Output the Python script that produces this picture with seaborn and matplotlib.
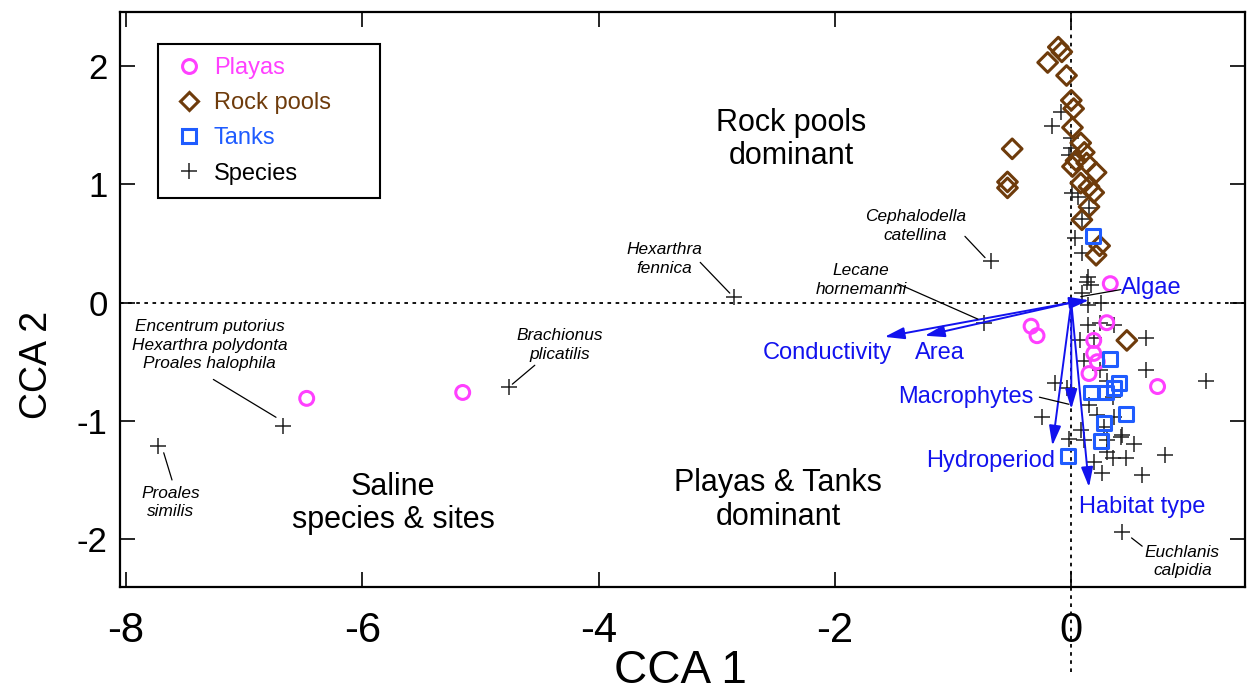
import matplotlib
matplotlib.use("Agg")
import matplotlib.pyplot as plt
from matplotlib.lines import Line2D
import numpy as np
import pandas as pd
import seaborn as sns

# ---- site scores (CCA 1, CCA 2) ----
playas_x = [-6.47, -5.15, -0.34, -0.29, 0.33, 0.30, 0.19, 0.19, 0.22, 0.15, 0.73]
playas_y = [-0.81, -0.76, -0.20, -0.28, 0.16, -0.17, -0.32, -0.43, -0.50, -0.60, -0.71]

rock_x = [-0.11, -0.08, -0.20, -0.04, 0.00, 0.02, 0.01, -0.50, 0.08, 0.11, 0.04, 0.13,
          0.21, 0.08, 0.15, 0.19, 0.15, 0.09, 0.24, 0.21, -0.54, -0.54, 0.47, 0.01]
rock_y = [2.16, 2.12, 2.03, 1.92, 1.71, 1.64, 1.48, 1.30, 1.35, 1.27, 1.20, 1.18,
          1.10, 1.01, 0.98, 0.93, 0.81, 0.70, 0.48, 0.40, 1.02, 0.97, -0.32, 1.15]

tanks_x = [0.18, 0.33, 0.40, 0.17, 0.29, 0.36, 0.46, 0.28, 0.25, -0.03]
tanks_y = [0.56, -0.48, -0.68, -0.76, -0.76, -0.72, -0.94, -1.02, -1.17, -1.30]

# ---- species scores ----
species_x = [-7.73, -6.67, -4.76, -2.85, -0.74, -0.68, 0.43,
             -0.09, -0.16, 0.00, 0.00, -0.02, 0.01, 0.06, 0.15, 0.09, 0.03, 0.09,
             0.14, 0.13, 0.17, 0.09, 0.25, 0.14, 0.14, 0.24, 0.36, 0.07, 0.19, 0.63,
             0.11, 0.24, 0.63, 1.14, -0.14, -0.04, 0.30, 0.15, 0.35, -0.25, 0.22,
             0.36, 0.08, 0.28, 0.43, -0.02, 0.11, 0.30, 0.42, 0.53, 0.30, 0.35,
             0.19, 0.46, 0.79, 0.26, 0.60]
species_y = [-1.21, -1.04, -0.71, 0.05, -0.17, 0.35, -1.94,
             1.61, 1.49, 1.39, 1.31, 1.25, 0.93, 0.89, 0.80, 0.71, 0.55, 0.42,
             0.22, 0.17, 0.15, 0.08, 0.00, -0.02, -0.19, -0.17, -0.19, -0.32, -0.30, -0.30,
             -0.49, -0.57, -0.57, -0.66, -0.68, -0.72, -0.66, -0.87, -0.80, -0.97, -0.95,
             -0.97, -1.08, -1.05, -1.12, -1.15, -1.16, -1.16, -1.14, -1.20, -1.26, -1.31,
             -1.35, -1.31, -1.29, -1.44, -1.46]

# ---- environmental vectors ----
env_names = ["Algae", "Conductivity", "Area", "Macrophytes", "Hydroperiod", "Habitat type"]
env_x = [0.15, -1.58, -1.24, 0.00, -0.16, 0.15]
env_y = [0.02, -0.29, -0.28, -0.90, -1.21, -1.56]

# ---- species names ----
species_names = ["Proales\nsimilis",
                 "Encentrum putorius\nHexarthra polydonta\nProales halophila",
                 "Brachionus\nplicatilis",
                 "Hexarthra\nfennica",
                 "Lecane\nhornemanni",
                 "Cephalodella\ncatellina",
                 "Euchlanis\ncalpidia"]

legend_labels = ["Playas", "Rock pools", "Tanks", "Species"]

PLAYA = "#ff40ff"
ROCK = "#6e3b0b"
TANK = "#1f5cff"
SPEC = "#222222"
VEC = "#1212ee"

sns.set_style("ticks")
plt.rcParams["font.family"] = ["Liberation Sans", "DejaVu Sans"]
plt.rcParams["axes.unicode_minus"] = False
plt.rcParams["xtick.color"] = "k"
plt.rcParams["ytick.color"] = "k"
plt.rcParams["axes.labelcolor"] = "k"

sites = pd.concat([
    pd.DataFrame({"CCA1": playas_x, "CCA2": playas_y, "type": "Playas"}),
    pd.DataFrame({"CCA1": rock_x, "CCA2": rock_y, "type": "Rock pools"}),
    pd.DataFrame({"CCA1": tanks_x, "CCA2": tanks_y, "type": "Tanks"}),
], ignore_index=True)
species = pd.DataFrame({"CCA1": species_x, "CCA2": species_y})

fig = plt.figure(figsize=(12.47, 6.92), dpi=100)
ax = fig.add_axes([120 / 1247, 1 - 587 / 692, 1125 / 1247, 575 / 692])

x_lo, x_hi = -8.05, 1.47
y_lo, y_hi = -2.405, 2.457

# dotted reference axes through the origin
ax.axhline(0, color="k", lw=1.3, ls=(0, (2, 2.5)), zorder=1)
ax.plot([0, 0], [-3.12, y_hi], color="k", lw=1.3, ls=(0, (2, 2.5)),
        clip_on=False, zorder=1)

# species
sns.scatterplot(data=species, x="CCA1", y="CCA2", marker="+", s=140,
                color=SPEC, linewidth=1.1, ax=ax, zorder=3, legend=False)

# sites
marker_map = {"Playas": "o", "Rock pools": "D", "Tanks": "s"}
color_map = {"Playas": PLAYA, "Rock pools": ROCK, "Tanks": TANK}
for name, grp in sites.groupby("type", sort=False):
    sns.scatterplot(data=grp, x="CCA1", y="CCA2", marker=marker_map[name],
                    s=100, facecolors="none",
                    edgecolor=color_map[name], linewidth=2.2, ax=ax,
                    zorder=4, legend=False)

# environmental arrows
for ex, ey in zip(env_x, env_y):
    ax.annotate("", xy=(ex, ey), xytext=(0, 0),
                arrowprops=dict(arrowstyle="-|>,head_length=0.6,head_width=0.18",
                                color=VEC, lw=1.4, shrinkA=0, shrinkB=0,
                                mutation_scale=20),
                zorder=5)

env_label_pos = {
    "Algae": (0.42, 0.12, "left"),
    "Conductivity": (-2.06, -0.43, "center"),
    "Area": (-1.11, -0.43, "center"),
    "Macrophytes": (-0.89, -0.80, "center"),
    "Hydroperiod": (-0.68, -1.34, "center"),
    "Habitat type": (0.60, -1.73, "center"),
}
for nm in env_names:
    lx, ly, ha = env_label_pos[nm]
    ax.text(lx, ly, nm, color=VEC, fontsize=17, ha=ha, va="center", zorder=6)

# leader lines for vector labels
ax.plot([0.08, 0.42], [0.05, 0.11], color="k", lw=0.9, zorder=5)
ax.plot([-0.27, -0.02], [-0.80, -0.86], color="k", lw=0.9, zorder=5)

# species labels with leader lines
sp_label_pos = [(-7.62, -1.69), (-7.29, -0.36), (-4.33, -0.36), (-3.44, 0.37),
                (-1.78, 0.19), (-1.32, 0.65), (0.94, -2.19)]
sp_leaders = [((-7.68, -1.27), (-7.61, -1.50)),
              ((-7.26, -0.65), (-6.73, -0.97)),
              ((-4.54, -0.53), (-4.73, -0.69)),
              ((-3.14, 0.34), (-2.89, 0.08)),
              ((-1.47, 0.16), (-0.79, -0.14)),
              ((-0.90, 0.56), (-0.73, 0.38)),
              ((0.51, -1.99), (0.60, -2.06))]
for nm, (tx, ty), (p0, p1) in zip(species_names, sp_label_pos, sp_leaders):
    ax.text(tx, ty, nm, fontsize=12.4, style="italic", ha="center", va="center",
            multialignment="center", linespacing=1.3, color="k", zorder=6)
    ax.plot([p0[0], p1[0]], [p0[1], p1[1]], color="k", lw=0.9, zorder=5)

# group descriptions
ax.text(-2.37, 1.38, "Rock pools\ndominant", fontsize=22, ha="center",
        va="center", linespacing=1.15, color="k")
ax.text(-5.74, -1.70, "Saline\nspecies & sites", fontsize=22, ha="center",
        va="center", linespacing=1.15, color="k")
ax.text(-2.48, -1.67, "Playas & Tanks\ndominant", fontsize=22, ha="center",
        va="center", linespacing=1.15, color="k")

# axes, ticks, labels
ax.set_xlim(x_lo, x_hi)
ax.set_ylim(y_lo, y_hi)
ax.set_xticks([-8, -6, -4, -2, 0])
ax.set_yticks([-2, -1, 0, 1, 2])
ax.set_xticklabels(["-8", "-6", "-4", "-2", "0"])
ax.set_yticklabels(["-2", "-1", "0", "1", "2"])
ax.tick_params(direction="in", length=10.5, width=1.2, top=True, right=True,
               color="k", labelcolor="k")
ax.tick_params(axis="x", labelsize=30, pad=17)
ax.tick_params(axis="y", labelsize=25, pad=9)
for sp in ax.spines.values():
    sp.set_linewidth(1.6)
    sp.set_color("k")

ax.set_xlabel("CCA 1", fontsize=33)
ax.set_ylabel("CCA 2", fontsize=27)
ax.xaxis.set_label_coords(0.498, -0.108)
ax.yaxis.set_label_coords(-0.058, 0.386)

# legend
handles = [
    Line2D([], [], ls="", marker="o", ms=10, mfc="none", mec=PLAYA, mew=2.2),
    Line2D([], [], ls="", marker="D", ms=9.5, mfc="none", mec=ROCK, mew=2.2),
    Line2D([], [], ls="", marker="s", ms=10, mfc="none", mec=TANK, mew=2.2),
    Line2D([], [], ls="", marker="+", ms=11, color=SPEC, mew=1.1),
]
leg = ax.legend(handles, legend_labels, loc="upper left",
                bbox_to_anchor=(38 / 1125, 0.0, 222 / 1125, 1 - 32 / 575),
                mode="expand", borderaxespad=0, frameon=True, fancybox=False,
                edgecolor="k", fontsize=17, handlelength=1.5, handletextpad=0.32,
                borderpad=0.55, labelspacing=0.56, framealpha=1)
leg.get_frame().set_linewidth(1.5)
for t, c in zip(leg.get_texts(), [PLAYA, ROCK, TANK, "k"]):
    t.set_color(c)

fig.savefig("out.png", dpi=100)
